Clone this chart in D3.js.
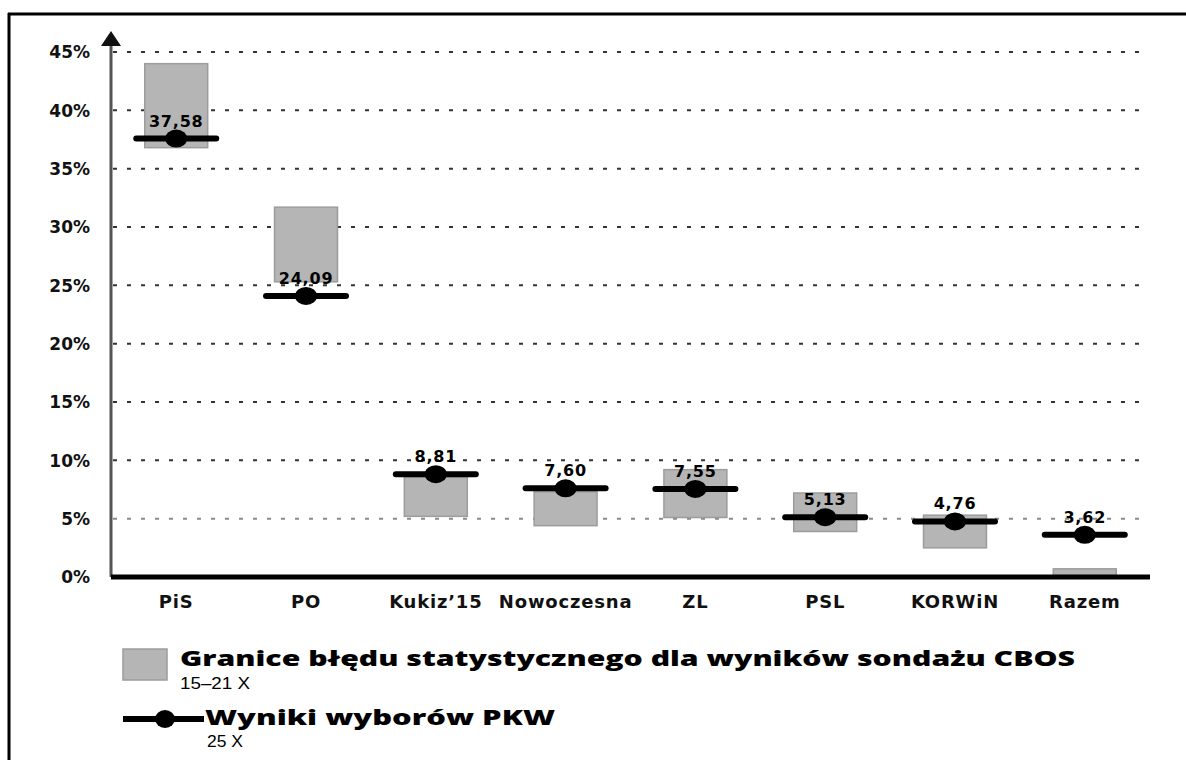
<!DOCTYPE html>
<html><head><meta charset="utf-8">
<script src="https://cdn.jsdelivr.net/npm/d3@7"></script>
<style>
html,body{margin:0;padding:0;background:#fff;}
svg{display:block;}
</style></head>
<body>
<svg id="c" width="1186" height="760"></svg>
<script>
const categories = ["PiS","PO","Kukiz\u201915","Nowoczesna","ZL","PSL","KORWiN","Razem"];
const pollLow  = [36.8, 25.3, 5.2, 4.4, 5.1, 3.9, 2.5, 0.0];
const pollHigh = [44.0, 31.7, 8.6, 7.3, 9.2, 7.2, 5.3, 0.7];
const results  = [37.58, 24.09, 8.81, 7.60, 7.55, 5.13, 4.76, 3.62];
const yTicks   = [0,5,10,15,20,25,30,35,40,45];
const legendPollTitle = "Granice b\u0142\u0119du statystycznego dla wynik\u00f3w sonda\u017cu CBOS";
const legendPollSub = "15\u201321 X";
const legendResTitle = "Wyniki wybor\u00f3w PKW";
const legendResSub = "25 X";

const svg = d3.select("#c");
const x = d3.scaleBand().domain(categories).range([111,1150]).paddingInner(0.515).paddingOuter(0.26);
const y = d3.scaleLinear().domain([0,45]).range([577,52]);
const barFill = "#b5b5b5", barStroke = "#9c9c9c";
const labelFont = "'DejaVu Sans', Verdana, sans-serif";

// frame
svg.append("line").attr("x1",8).attr("x2",1186).attr("y1",14).attr("y2",14).attr("stroke","#000").attr("stroke-width",3);
svg.append("line").attr("x1",9).attr("x2",9).attr("y1",13).attr("y2",760).attr("stroke","#000").attr("stroke-width",3);

// gridlines
svg.append("g").selectAll("line").data(yTicks.filter(d=>d>0)).join("line")
  .attr("x1",113).attr("x2",1148)
  .attr("y1",d=>y(d)).attr("y2",d=>y(d))
  .attr("stroke",d=>d===5?"#8a8a8a":"#333")
  .attr("stroke-width",2)
  .attr("stroke-dasharray","4,10");

// y axis
const yAxis = d3.axisLeft(y).tickValues(yTicks).tickSize(0).tickPadding(21).tickFormat(d=>d+"%");
const gy = svg.append("g").attr("transform","translate(111,0)").call(yAxis);
gy.select(".domain").remove();
gy.selectAll("text").attr("font-family",labelFont).attr("font-weight","bold").attr("font-size",17).attr("fill","#111").attr("dy","0.35em");
svg.append("line").attr("x1",111).attr("x2",111).attr("y1",577).attr("y2",42).attr("stroke","#555").attr("stroke-width",3);
svg.append("path").attr("d","M101,46 L111,31 L121,46 Z").attr("fill","#111");

// bars (poll error ranges)
svg.append("g").selectAll("rect").data(categories).join("rect")
  .attr("x",d=>x(d)).attr("width",x.bandwidth())
  .attr("y",(d,i)=>y(pollHigh[i]))
  .attr("height",(d,i)=>y(pollLow[i])-y(pollHigh[i]))
  .attr("fill",barFill).attr("stroke",barStroke).attr("stroke-width",1.5);

// x axis
const xAxis = d3.axisBottom(x).tickSize(0).tickPadding(18);
const gx = svg.append("g").attr("transform","translate(0,577)").call(xAxis);
gx.select(".domain").remove();
gx.selectAll("text").attr("font-family",labelFont).attr("font-weight","bold").attr("font-size",18).attr("letter-spacing",0.8).attr("fill","#111");
svg.append("line").attr("x1",111).attr("x2",1150).attr("y1",577).attr("y2",577).attr("stroke","#000").attr("stroke-width",5);

// election results
const cx = d => x(d)+x.bandwidth()/2;
const res = svg.append("g");
res.selectAll("line").data(categories).join("line")
  .attr("x1",d=>cx(d)-40).attr("x2",d=>cx(d)+40)
  .attr("y1",(d,i)=>y(results[i])).attr("y2",(d,i)=>y(results[i]))
  .attr("stroke","#000").attr("stroke-width",6).attr("stroke-linecap","round");
res.selectAll("ellipse").data(categories).join("ellipse")
  .attr("cx",cx).attr("cy",(d,i)=>y(results[i]))
  .attr("rx",11).attr("ry",9).attr("fill","#000");
res.selectAll("text").data(categories).join("text")
  .attr("x",cx).attr("y",(d,i)=>y(results[i])-12)
  .attr("text-anchor","middle")
  .attr("font-family",labelFont).attr("font-weight","bold").attr("font-size",16).attr("letter-spacing",0.8).attr("fill","#000")
  .text((d,i)=>d3.format(".2f")(results[i]).replace(".",","));

// legend
const lg = svg.append("g");
lg.append("rect").attr("x",123).attr("y",649).attr("width",44).attr("height",31).attr("fill",barFill).attr("stroke",barStroke).attr("stroke-width",1.5);
function fitText(sel, w){ sel.attr("textLength",w).attr("lengthAdjust","spacingAndGlyphs"); return sel; }
fitText(lg.append("text").attr("x",180).attr("y",666).attr("font-family","'Open Sans', sans-serif").attr("font-weight",800).attr("font-size",21).attr("fill","#000").text(legendPollTitle),895);
fitText(lg.append("text").attr("x",180).attr("y",689).attr("font-family","'Liberation Sans', Arial, sans-serif").attr("font-size",16).attr("fill","#000").text(legendPollSub),70);
lg.append("line").attr("x1",123).attr("x2",204).attr("y1",719).attr("y2",719).attr("stroke","#000").attr("stroke-width",6);
lg.append("ellipse").attr("cx",165).attr("cy",719).attr("rx",10).attr("ry",9).attr("fill","#000");
fitText(lg.append("text").attr("x",205).attr("y",725).attr("font-family","'Open Sans', sans-serif").attr("font-weight",800).attr("font-size",21).attr("fill","#000").text(legendResTitle),350);
fitText(lg.append("text").attr("x",207).attr("y",747).attr("font-family","'Liberation Sans', Arial, sans-serif").attr("font-size",16).attr("fill","#000").text(legendResSub),36);
</script>
</body></html>
